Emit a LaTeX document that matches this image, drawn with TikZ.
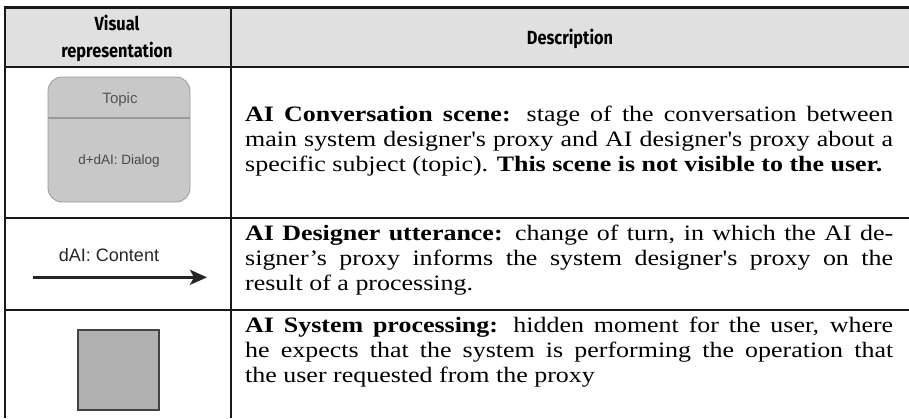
\documentclass[tikz,border=0pt]{standalone}
\usepackage{fontspec}
\newfontfamily\bodyfont[FakeStretch=1.18]{Liberation Serif}
\newfontfamily\headfont[FakeStretch=0.86]{Fira Sans}
\newfontfamily\arialfont{Liberation Sans}
\usetikzlibrary{arrows.meta}
\definecolor{headgray}{HTML}{E0E0E0}
\definecolor{scenefill}{HTML}{C8C8C8}
\definecolor{sceneline}{HTML}{9A9A9A}
\definecolor{procfill}{HTML}{B0B0B0}
\definecolor{procline}{HTML}{444444}
\definecolor{labelgray}{HTML}{555555}
\tikzset{
  rule/.style={line width=2.2pt, draw=black!90},
  desc/.style={anchor=base west, inner sep=0pt},
  headtxt/.style={font=\headfont\bfseries\fontsize{19}{26}\selectfont, align=center, inner sep=0pt},
}
\newcommand{\myjustify}{\rightskip=0pt\leftskip=0pt\parfillskip=0pt plus 1fil\parindent=0pt}
\newcommand{\desctext}[1]{\parbox[t]{648pt}{\bodyfont\fontsize{22}{25}\selectfont\myjustify #1}}
\begin{document}
\begin{tikzpicture}[x=1pt,y=-1pt]
\useasboundingbox (0,0) rectangle (909,418);
% header
\fill[headgray] (5,7) rectangle (909,67);
\node[headtxt, anchor=base] (hv) at (117,30) {Visual};
\node[headtxt, anchor=base] (hr) at (117,57) {representation};
\node[headtxt, anchor=base] (hd) at (570,44) {Description};
% rules
\draw[line width=3pt, draw=black!90] (3.5,7.5) -- (909,7.5);
\draw[line width=2.4pt, draw=black!90] (5,66.7) -- (909,66.7);
\draw[rule] (5,217.7) -- (909,217.7);
\draw[rule] (5,310) -- (909,310);
\draw[rule] (5,6) -- (5,418);
\draw[rule] (231,6) -- (231,418);
% row 1: scene
\draw[sceneline, fill=scenefill, line width=0.8pt, rounded corners=14pt] (48,77) rectangle (190,202);
\draw[sceneline, line width=1.2pt] (48,118) -- (190,118);
\node[font=\arialfont\fontsize{15}{17}\selectfont, text=labelgray] (topic) at (120,100) {Topic};
\node[font=\arialfont\fontsize{13.5}{15}\selectfont, text=labelgray!85!black] (dialog) at (119,161) {d+dAI: Dialog};
\node[desc] (d1) at (245,121.5) {\desctext{\textbf{AI Conversation scene:} stage of the conversation between\linebreak main system designer's proxy and AI designer's proxy about a\linebreak specific subject (topic). \textbf{This scene is not visible to the user.}}};
% row 2: utterance
\node[font=\arialfont\fontsize{18}{20}\selectfont, text=black!85, anchor=base] (content) at (109,261.7) {dAI: Content};
\coordinate (as) at (33,277.3);
\coordinate (ae) at (207,277.3);
\draw[line width=2.7pt, black!85, -{Stealth[length=17pt,width=15pt,inset=4pt]}] (as) -- (ae);
\node[desc] (d2) at (245,240) {\desctext{\textbf{AI Designer utterance:} change of turn, in which the AI de-\linebreak signer’s proxy informs the system designer's proxy on the\linebreak result of a processing.}};
% row 3: processing
\draw[procline, fill=procfill, line width=2.2pt] (78,330) rectangle (159,410);
\node[desc] (d3) at (245,332.5) {\desctext{\textbf{AI System processing:} hidden moment for the user, where\linebreak he expects that the system is performing the operation that\linebreak the user requested from the proxy}};
\end{tikzpicture}
\end{document}
